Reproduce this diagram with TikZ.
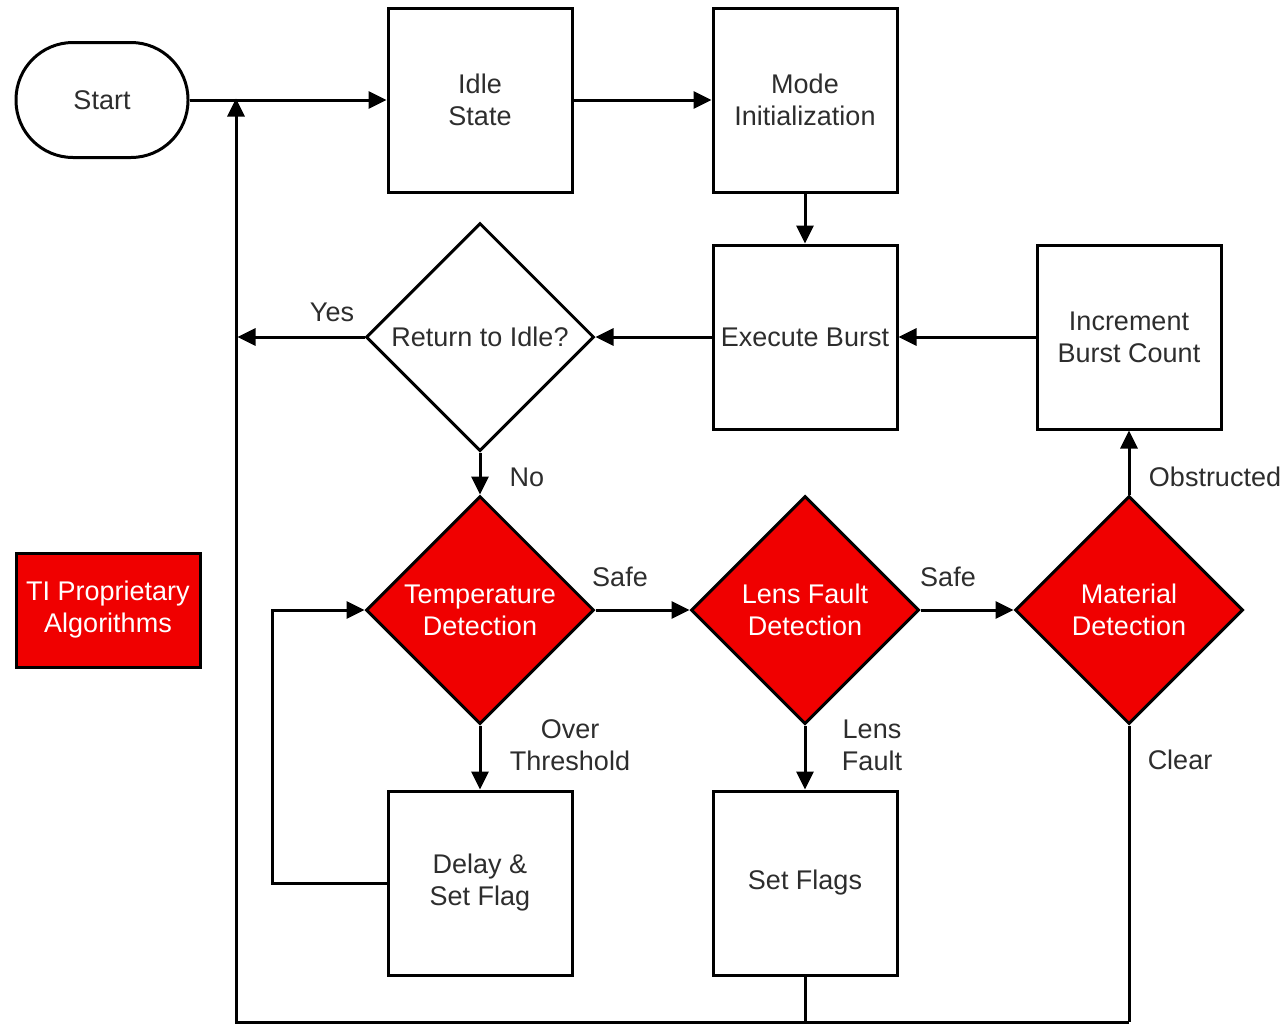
\documentclass[tikz,border=0pt]{standalone}
\usepackage{fontspec}
\setmainfont{Liberation Sans}
\usetikzlibrary{shapes.geometric,arrows.meta}
\definecolor{tired}{RGB}{240,0,0}
\definecolor{txt}{RGB}{45,45,45}
\begin{document}
\begin{tikzpicture}[x=1pt,y=-1pt,
  every node/.style={font=\fontsize{27}{32}\selectfont, text=txt, align=center},
  base/.style={draw=black, line width=3pt, inner sep=0pt},
  procbox/.style={base, rectangle, minimum width=184pt, minimum height=184pt},
  decide/.style={base, diamond, aspect=1, minimum width=228pt, minimum height=228pt},
  reddecide/.style={decide, fill=tired, text=white},
  conn/.style={line width=3pt, -{Triangle[length=18pt,width=17pt]}},
  plain/.style={line width=3pt},
  lbl/.style={inner sep=0pt}]
\useasboundingbox (0,0) rectangle (1288,1026);

\node[base, rectangle, rounded corners=57pt, minimum width=172pt, minimum height=115pt] (start) at (102,100) {Start};
\node[procbox] (idle) at (480,100) {Idle\\State};
\node[procbox] (mode) at (805,100) {Mode\\Initialization};
\node[procbox] (exec) at (805,337) {Execute Burst};
\node[procbox] (inc) at (1129,337) {Increment\\Burst Count};
\node[decide] (ret) at (480,337) {Return to Idle?};
\node[reddecide] (temp) at (480,610) {Temperature\\Detection};
\node[reddecide] (lens) at (805,610) {Lens Fault\\Detection};
\node[reddecide] (mat) at (1129,610) {Material\\Detection};
\node[procbox] (delay) at (480,883) {Delay \&\\Set Flag};
\node[procbox] (flags) at (805,883) {Set Flags};
\node[base, rectangle, fill=tired, text=white, minimum width=184pt, minimum height=114pt] (ti) at (108,610) {TI Proprietary\\Algorithms};

\coordinate (jtop) at (236,100);
\coordinate (jyes) at (236,337);
\coordinate (bl) at (236,1022);
\coordinate (bm) at (805,1022);
\coordinate (br) at (1129,1022);
\coordinate (loopx) at (272,883);
\coordinate (loopy) at (272,610);

\draw[conn] (start.east) -- (idle.west);
\draw[conn] (idle.east) -- (mode.west);
\draw[conn] (mode.south) -- (exec.north);
\draw[conn] (exec.west) -- (ret.east);
\draw[conn] (inc.west) -- (exec.east);
\draw[conn] (ret.west) -- ([xshift=1.5pt]jyes);
\draw[conn] (ret.south) -- (temp.north);
\draw[conn] (temp.east) -- (lens.west);
\draw[conn] (lens.east) -- (mat.west);
\draw[conn] (mat.north) -- (inc.south);
\draw[conn] (temp.south) -- (delay.north);
\draw[conn] (lens.south) -- (flags.north);
\draw[conn] (delay.west) -- (loopx) -- (loopy) -- (temp.west);
\draw[plain] (mat.south) -- (br);
\draw[plain] (flags.south) -- (bm);
\draw[conn, line join=miter] (br) -- (bl) -- ([yshift=1.5pt]jtop);

\node[lbl] (lyes) at (332,312) {Yes};
\node[lbl] (lno) at (527,477) {No};
\node[lbl] (lsafe1) at (620,577) {Safe};
\node[lbl] (lsafe2) at (948,577) {Safe};
\node[lbl] (lobs) at (1215,477) {Obstructed};
\node[lbl] (lover) at (570,745) {Over\\Threshold};
\node[lbl] (llens) at (872,745) {Lens\\Fault};
\node[lbl] (lclear) at (1180,760) {Clear};
\end{tikzpicture}
\end{document}
